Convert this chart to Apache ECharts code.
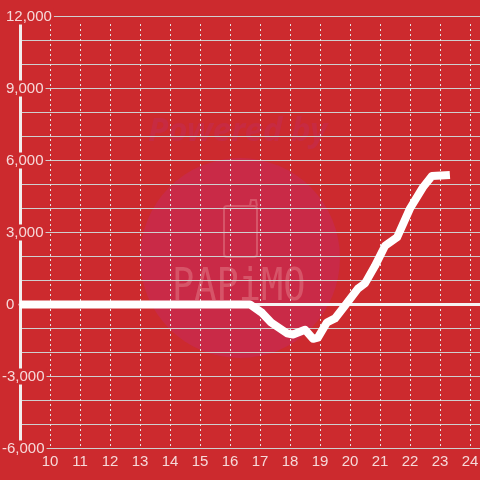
<!DOCTYPE html>
<html><head><meta charset="utf-8">
<style>html,body{margin:0;padding:0;background:#cc2a2e}#c{width:480px;height:480px}</style>
<script src="https://cdn.jsdelivr.net/npm/echarts@6/dist/echarts.min.js"></script>
</head><body><div id="c"></div>
<script>
const hours = [9.0,10,11,12,13,14,15,16,16.67,17.07,17.37,17.9,18.1,18.5,18.77,18.93,19.23,19.5,19.83,20.27,20.5,20.83,21.17,21.57,22.0,22.43,22.73,23.33];
const values = [0,0,0,0,0,0,0,0,0,-350,-750,-1200,-1250,-1050,-1430,-1380,-750,-580,-50,670,880,1600,2450,2800,4000,4880,5350,5400];
const xTicks = [10,11,12,13,14,15,16,17,18,19,20,21,22,23,24];
const yLabels = [12000,9000,6000,3000,0,-3000,-6000];
const fmt = v => Math.abs(v).toLocaleString('en-US');
const chart = echarts.init(document.getElementById('c'), null, {renderer:'canvas'});
const red = '#cc2a2e', txt = '#f6d9d9';
chart.setOption({
  backgroundColor: red,
  animation: false,
  grid: [
    {left:20, width:460, top:16.5, height:432, outerBoundsMode:'none'},
    {left:20, width:460, top:24, height:422, outerBoundsMode:'none'}
  ],
  xAxis: [
    {type:'value', gridIndex:0, min:9, max:24.3333, interval:1,
     axisLine:{show:true, onZero:true, lineStyle:{color:'#f5f2f2', width:3}},
     axisTick:{show:false}, splitLine:{show:false},
     axisLabel:{color:txt, fontSize:15, fontFamily:'Liberation Sans', margin:6, hideOverlap:false,
       customValues:xTicks, formatter:v=>String(v)}},
    {type:'value', gridIndex:1, min:9, max:24.3333, interval:1,
     axisLine:{show:false}, axisTick:{show:false}, axisLabel:{show:false},
     splitLine:{show:true, showMinLine:false, lineStyle:{color:'#e4e4e4', width:1, type:[2,3]}}}
  ],
  yAxis: [
    {type:'value', gridIndex:0, min:-6000, max:12000, interval:1000,
     axisLine:{show:true, onZero:false, lineStyle:{color:'#f2eeee', width:3}},
     axisTick:{show:false},
     splitLine:{show:true, lineStyle:{color:'#cfcfcf', width:1}},
     axisLabel:{show:true, inside:true, margin:-18, align:'left', hideOverlap:false, showMinLabel:true, showMaxLabel:true, fontSize:15, fontFamily:'Liberation Sans', color:txt,
       formatter:v=> yLabels.includes(v) ? (v<0 ? '{b|-'+fmt(v)+'}' : '{a|'+fmt(v)+'}') : '',
       rich:{
         a:{color:txt, fontSize:15, fontFamily:'Liberation Sans', backgroundColor:red, padding:[1,2,0,4]},
         b:{color:txt, fontSize:15, fontFamily:'Liberation Sans', backgroundColor:red, padding:[1,2,0,0]}
       }}},
    {type:'value', gridIndex:1, min:0, max:1, show:false}
  ],
  graphic: [
    {type:'circle', z:-1, silent:true, shape:{cx:240,cy:258,r:100}, style:{fill:'#c92a47'}},
    {type:'text', z:-1, silent:true, x:148, y:115, style:{text:'Powered by', font:'italic bold 33px "Noto Sans"', fill:'#c72b42'}},
    {type:'rect', z:-1, silent:true, shape:{x:224,y:206,width:33,height:51,r:3}, style:{fill:'none', stroke:'#d65468', lineWidth:2}},
    {type:'polyline', z:-1, silent:true, shape:{points:[[250,206],[251,200],[256,200],[257,206]]}, style:{fill:'none', stroke:'#d65468', lineWidth:2}},
    {type:'text', z:-1, silent:true, x:172, y:267, scaleX:0.84, style:{text:'PAPiMO', font:'44px "DejaVu Sans Mono"', fill:'#d65468'}}
  ],
  series: [{
    type:'line', xAxisIndex:0, yAxisIndex:0, symbol:'none', smooth:false, silent:true, clip:false, z:5,
    data: hours.map((h,i)=>[h,values[i]]),
    lineStyle:{color:'#ffffff', width:8, cap:'butt', join:'round'}
  }]
});
</script></body></html>
